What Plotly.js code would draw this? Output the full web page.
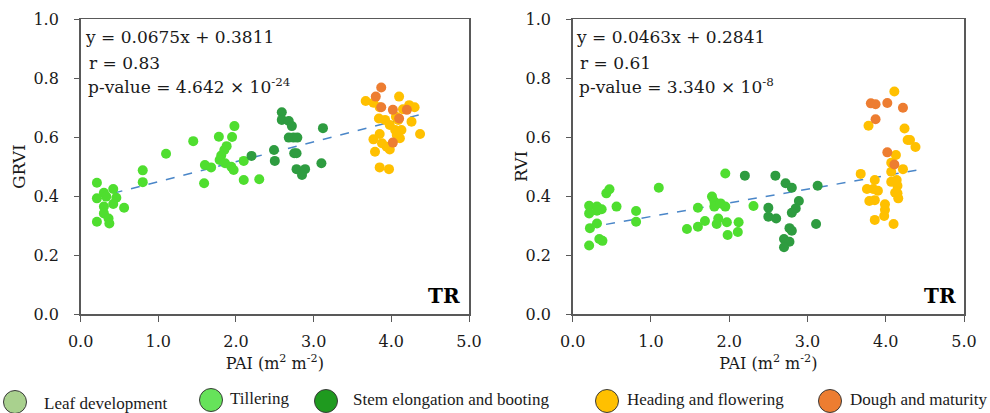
<!DOCTYPE html>
<html>
<head>
<meta charset="utf-8">
<script src="https://cdn.plot.ly/plotly-3.0.1.min.js"></script>
<style>
  html, body { margin: 0; padding: 0; background: #fff; }
  #chart { width: 990px; height: 413px; }
</style>
</head>
<body>
<div id="chart"></div>
<script>
// Growth stages and their colours
const stageNames = ["Leaf development", "Tillering", "Stem elongation and booting", "Heading and flowering", "Dough and maturity"];
const stageMarkerColors = ["#a9d18e", "#4fde2f", "#2e9c40", "#ffc000", "#ed7d31"];
const stageLegendColors = ["#a9d18e", "#66e35a", "#1f9a1f", "#ffc000", "#ed7d31"];

// GRVI vs PAI
const grviTillPAI = [0.21, 0.42, 0.30, 0.21, 0.33, 0.46, 0.42, 0.30, 0.56, 0.30, 0.36, 0.21, 0.37, 0.80, 0.80, 1.10, 1.45, 1.59, 1.60, 1.68, 1.78, 1.98, 1.95, 1.88, 1.85, 1.81, 1.79, 1.86, 1.94, 1.97, 2.10, 2.10, 2.30];
const grviTill    = [0.445, 0.424, 0.411, 0.392, 0.398, 0.394, 0.373, 0.364, 0.360, 0.341, 0.324, 0.313, 0.307, 0.487, 0.447, 0.543, 0.586, 0.443, 0.505, 0.497, 0.601, 0.637, 0.600, 0.569, 0.556, 0.537, 0.522, 0.511, 0.499, 0.488, 0.519, 0.454, 0.457];
const grviStemPAI = [2.20, 2.49, 2.50, 2.59, 2.59, 2.68, 2.72, 2.68, 2.74, 2.79, 3.12, 2.75, 2.78, 2.78, 2.89, 2.85, 3.10];
const grviStem    = [0.536, 0.556, 0.519, 0.684, 0.658, 0.654, 0.637, 0.598, 0.598, 0.598, 0.630, 0.545, 0.545, 0.491, 0.491, 0.471, 0.511];
const grviHeadPAI = [3.67, 3.77, 4.10, 3.85, 4.15, 4.23, 4.30, 3.84, 3.92, 3.98, 4.06, 4.09, 4.26, 4.05, 4.13, 4.07, 4.11, 3.85, 3.77, 3.88, 3.94, 3.98, 4.37, 3.79, 3.85, 3.97];
const grviHead    = [0.722, 0.716, 0.737, 0.701, 0.694, 0.708, 0.701, 0.663, 0.658, 0.641, 0.669, 0.658, 0.652, 0.624, 0.624, 0.607, 0.596, 0.610, 0.592, 0.579, 0.567, 0.558, 0.610, 0.550, 0.497, 0.491];
const grviDoughPAI = [3.87, 3.80, 3.87, 4.02, 4.20, 4.10, 4.02];
const grviDough    = [0.768, 0.737, 0.701, 0.692, 0.692, 0.663, 0.581];

// RVI vs PAI
const rviTillPAI = [0.21, 0.31, 0.37, 0.31, 0.21, 0.43, 0.47, 0.56, 0.31, 0.22, 0.34, 0.38, 0.21, 0.81, 0.81, 1.10, 1.46, 1.60, 1.60, 1.69, 1.78, 1.81, 1.81, 1.89, 1.95, 1.86, 1.84, 1.97, 1.98, 2.12, 2.11, 1.95, 2.31];
const rviTill    = [0.367, 0.364, 0.355, 0.350, 0.341, 0.409, 0.423, 0.364, 0.307, 0.291, 0.254, 0.248, 0.232, 0.349, 0.313, 0.428, 0.288, 0.296, 0.360, 0.315, 0.398, 0.381, 0.364, 0.375, 0.364, 0.324, 0.305, 0.311, 0.268, 0.311, 0.278, 0.476, 0.366];
const rviStemPAI = [2.20, 2.50, 2.50, 2.59, 2.72, 2.80, 3.13, 2.60, 2.89, 2.85, 2.80, 2.77, 2.80, 2.70, 2.77, 2.70, 3.11];
const rviStem    = [0.469, 0.360, 0.330, 0.469, 0.443, 0.428, 0.435, 0.324, 0.383, 0.358, 0.343, 0.291, 0.282, 0.254, 0.245, 0.226, 0.305];
const rviHeadPAI = [3.68, 3.86, 4.07, 4.07, 4.22, 4.07, 4.14, 4.15, 3.76, 3.84, 3.90, 4.12, 4.15, 4.16, 3.79, 3.86, 3.99, 3.99, 3.98, 3.86, 4.10, 4.11, 3.78, 4.24, 4.28, 4.31, 4.38, 4.13];
const rviHead    = [0.475, 0.454, 0.513, 0.482, 0.491, 0.448, 0.454, 0.435, 0.424, 0.424, 0.418, 0.411, 0.409, 0.392, 0.383, 0.386, 0.372, 0.353, 0.332, 0.319, 0.305, 0.754, 0.638, 0.629, 0.590, 0.590, 0.566, 0.539];
const rviDoughPAI = [3.81, 3.87, 4.02, 4.22, 3.87, 4.02, 4.11];
const rviDough    = [0.714, 0.711, 0.715, 0.699, 0.660, 0.548, 0.507];

// Fitted linear models shown on each panel
const fitSlope     = [0.0675, 0.0463];
const fitIntercept = [0.3811, 0.2841];
const fitR         = ["0.83", "0.61"];
const fitPMantissa = ["4.642", "3.340"];
const fitPExponent = ["-24", "-8"];
const fitRange     = [0.2, 4.4];

const xTickVals = [0, 1, 2, 3, 4, 5];
const yTickVals = [0, 0.2, 0.4, 0.6, 0.8, 1.0];
const yTitles   = ["GRVI", "RVI"];
const siteLabel = "TR";

const FONT = "DejaVu Serif";
const KEY_FONT = "Liberation Serif";
const W = 990, H = 413;
const px = v => v / W;
const py = v => 1 - v / H;

function pts(x, y, color, xa, ya) {
  return { type: "scatter", mode: "markers", x: x, y: y, xaxis: xa, yaxis: ya,
           marker: { size: 10, color: color, line: { width: 0 } }, showlegend: false, hoverinfo: "x+y" };
}
function fitLine(i, xa, ya) {
  const xs = fitRange.slice();
  const ys = xs.map(v => fitSlope[i] * v + fitIntercept[i]);
  return { type: "scatter", mode: "lines", x: xs, y: ys, xaxis: xa, yaxis: ya,
           line: { color: "#4a86c8", width: 1.5, dash: "dash" }, showlegend: false, hoverinfo: "skip" };
}

const traces = [
  fitLine(0, "x", "y"),
  pts(grviTillPAI, grviTill, stageMarkerColors[1], "x", "y"),
  pts(grviStemPAI, grviStem, stageMarkerColors[2], "x", "y"),
  pts(grviHeadPAI, grviHead, stageMarkerColors[3], "x", "y"),
  pts(grviDoughPAI, grviDough, stageMarkerColors[4], "x", "y"),
  fitLine(1, "x2", "y2"),
  pts(rviTillPAI, rviTill, stageMarkerColors[1], "x2", "y2"),
  pts(rviStemPAI, rviStem, stageMarkerColors[2], "x2", "y2"),
  pts(rviHeadPAI, rviHead, stageMarkerColors[3], "x2", "y2"),
  pts(rviDoughPAI, rviDough, stageMarkerColors[4], "x2", "y2")
];

function xAxis(domain, anchor) {
  return {
    domain: domain, anchor: anchor, range: [0, 5], tickvals: xTickVals, tickformat: ".1f",
    ticks: "outside", ticklen: 6, tickcolor: "#595959", tickwidth: 1,
    showline: true, linecolor: "#595959", linewidth: 1.5, mirror: true,
    showgrid: false, zeroline: false, ticklabelstandoff: 6,
    tickfont: { family: FONT, size: 16, color: "#1a1a1a" },
    title: { text: "PAI (m<sup>2</sup> m<sup>-2</sup>)", font: { family: FONT, size: 16, color: "#1a1a1a" }, standoff: 8 }
  };
}
function yAxis(domain, anchor) {
  return {
    domain: domain, anchor: anchor, range: [0, 1], tickvals: yTickVals, tickformat: ".1f",
    ticks: "outside", ticklen: 5, tickcolor: "#595959", tickwidth: 1,
    showline: true, linecolor: "#595959", linewidth: 1.5, mirror: true,
    showgrid: false, zeroline: false, ticklabelstandoff: 12,
    tickfont: { family: FONT, size: 16, color: "#1a1a1a" }
  };
}

const yDom = [py(314), py(19)];
const layout = {
  width: W, height: H,
  margin: { l: 0, r: 0, t: 0, b: 0 },
  paper_bgcolor: "#fff", plot_bgcolor: "#fff",
  showlegend: false,
  xaxis: xAxis([px(80.6), px(469)], "y"),
  yaxis: yAxis(yDom, "x"),
  xaxis2: xAxis([px(572.7), px(964)], "y2"),
  yaxis2: yAxis(yDom, "x2"),
  annotations: [],
  shapes: []
};

// Vertical titles of the two index axes
const yTitleX = [19, 521];
for (let i = 0; i < 2; i++) {
  layout.annotations.push({
    xref: "paper", yref: "paper", x: px(yTitleX[i]), y: py(167), xanchor: "center", yanchor: "middle",
    textangle: -90, text: yTitles[i], showarrow: false, font: { family: FONT, size: 17, color: "#1a1a1a" }
  });
}

// Equation, correlation and p-value text for each panel
const panelLeft = [83, 574];
const panelRight = [462, 958];
for (let i = 0; i < 2; i++) {
  const lines = [
    { t: "y = " + fitSlope[i].toFixed(4) + "x + " + fitIntercept[i].toFixed(4), x: panelLeft[i], y: 37 },
    { t: "r = " + fitR[i], x: panelLeft[i] + 4, y: 63 },
    { t: "p-value = " + fitPMantissa[i] + " × 10<sup>" + fitPExponent[i] + "</sup>", x: panelLeft[i] + 3, y: 86 }
  ];
  lines.forEach(l => layout.annotations.push({
    xref: "paper", yref: "paper", x: px(l.x), y: py(l.y), xanchor: "left", yanchor: "middle",
    text: l.t, showarrow: false, font: { family: FONT, size: 17, color: "#1a1a1a" }
  }));
  layout.annotations.push({
    xref: "paper", yref: "paper", x: px(panelRight[i]), y: py(296), xanchor: "right", yanchor: "middle",
    text: "<b>" + siteLabel + "</b>", showarrow: false, font: { family: FONT, size: 20, color: "#000" }
  });
}

// Stage key along the bottom
const keyCircleX = [15, 211, 326, 607, 830];
const keyCircleY = [402, 400, 401, 401, 401];
const keyTextX = [42, 228, 351, 625, 848];
const keyTextY = [403, 398, 399, 399, 399];
for (let i = 0; i < stageNames.length; i++) {
  const r = 11.5;
  layout.shapes.push({
    type: "circle", xref: "paper", yref: "paper",
    x0: px(keyCircleX[i] - r), x1: px(keyCircleX[i] + r), y0: py(keyCircleY[i] + r), y1: py(keyCircleY[i] - r),
    fillcolor: stageLegendColors[i], line: { color: "#3a3a3a", width: 1 }
  });
  layout.annotations.push({
    xref: "paper", yref: "paper", x: px(keyTextX[i]), y: py(keyTextY[i]), xanchor: "left", yanchor: "middle",
    text: stageNames[i], showarrow: false, font: { family: KEY_FONT, size: 17, color: "#1a1a1a" }
  });
}

Plotly.newPlot("chart", traces, layout, { staticPlot: true, displayModeBar: false });
</script>
</body>
</html>
